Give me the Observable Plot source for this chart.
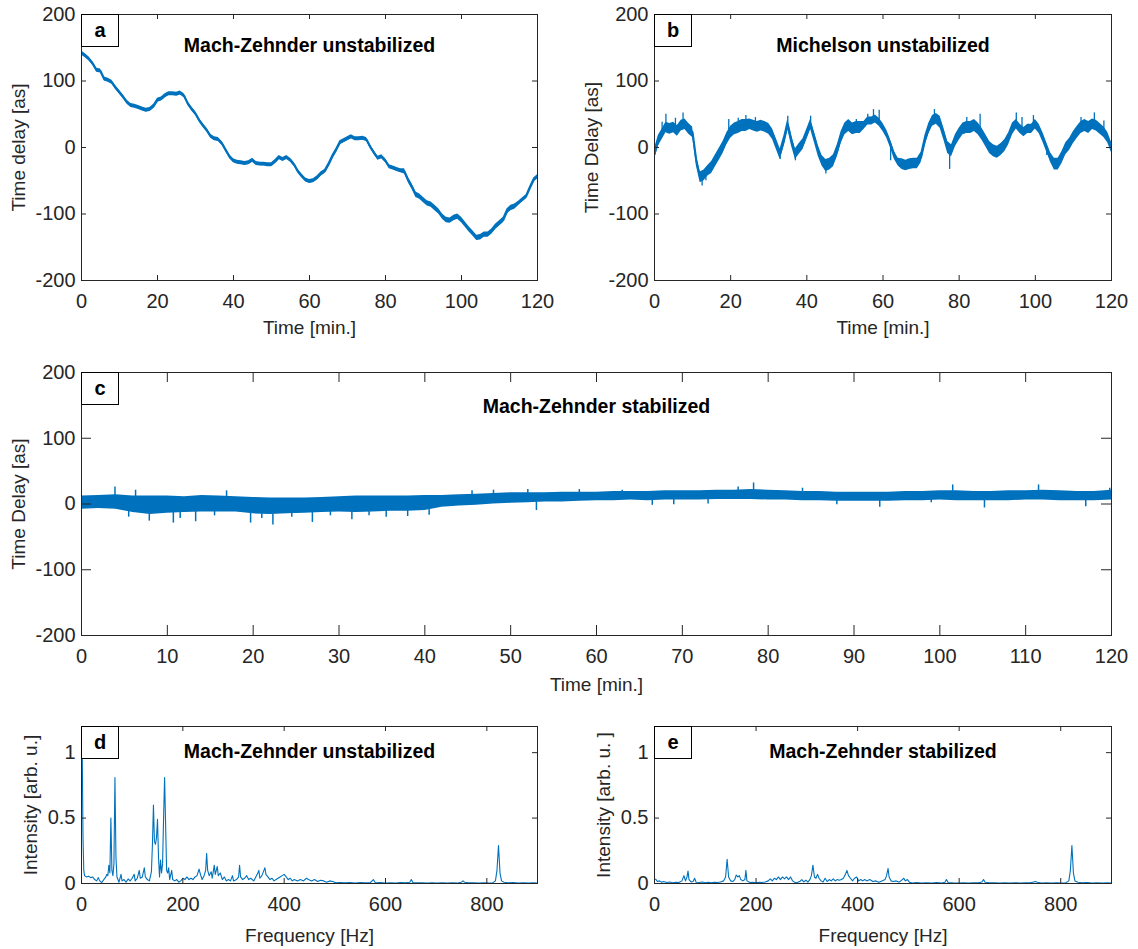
<!DOCTYPE html>
<html>
<head>
<meta charset="utf-8">
<script src="https://cdn.jsdelivr.net/npm/d3@7"></script>
<script src="https://cdn.jsdelivr.net/npm/@observablehq/plot@0.6"></script>
<style>
  body { margin: 0; background: #fff; }
  #fig { position: relative; width: 1138px; height: 949px; font-family: "Liberation Sans", Arial, Helvetica, sans-serif; }
  #fig svg { position: absolute; }
  .tag { position: absolute; width: 38px; height: 33px; box-sizing: border-box; border: 1px solid #000; background: #fff;
         font-weight: bold; font-size: 20px; color: #000; display: flex; align-items: center; justify-content: center; }
</style>
</head>
<body>
<div id="fig"></div>
<script>
// ---- measured series ----------------------------------------------------

// (a) Mach-Zehnder, unstabilized: time delay [as], one value per minute 0..120
const aDelay = [
  142, 138, 133, 126, 116, 115, 103, 101, 98, 90,
  83, 76, 68, 63, 62, 60, 58, 56, 57, 62,
  71, 73, 78, 81, 81, 80, 82, 78, 66, 58,
  51, 41, 33, 26, 17, 13, 12, 6, -4, -14,
  -20, -22, -23, -24, -23, -19, -24, -25, -25, -26,
  -26, -21, -15, -18, -15, -19, -26, -36, -43, -49,
  -51, -50, -46, -40, -36, -26, -14, -4, 7, 10,
  13, 16, 13, 13, 14, 12, 1, -8, -16, -14,
  -20, -29, -31, -33, -35, -36, -49, -59, -71, -74,
  -79, -84, -86, -91, -96, -104, -109, -110, -106, -104,
  -109, -116, -123, -129, -136, -135, -131, -131, -126, -119,
  -114, -109, -96, -91, -89, -84, -79, -74, -61, -49,
  -44
];
// half-width of the noise band around the trace, per 10-minute stretch
const aSpread = [3, 3, 3, 3, 3, 3, 3, 3, 3, 4, 4, 4, 3];

// (b) Michelson, unstabilized: centre of the trace per minute 0..120
const bDelay = [
  -10, 10, 20, 30, 28, 30, 25, 33, 35, 28,
  23, -20, -45, -42, -35, -30, -20, -10, 0, 13,
  23, 28, 30, 33, 33, 35, 33, 31, 33, 31,
  28, 20, 5, -10, 10, 35, 10, -10, -2, 5,
  20, 35, 15, -5, -20, -27, -25, -20, -5, 15,
  28, 33, 28, 30, 30, 33, 40, 40, 43, 38,
  30, 20, 5, -12, -22, -25, -27, -25, -24, -24,
  -15, 10, 28, 40, 43, 38, 20, 0, -5, 10,
  20, 28, 30, 30, 33, 28, 20, 10, 0, -5,
  -7, -3, 3, 13, 28, 35, 28, 23, 28, 28,
  35, 28, 15, 0, -15, -25, -25, -15, -2, 5,
  15, 23, 30, 33, 30, 35, 33, 28, 23, 15,
  0
];
// half-width of the noise band, per 10-minute stretch
const bSpread = [8, 8, 9, 8, 8, 9, 6, 8, 9, 9, 7, 9, 8];
// isolated excursions [minute, delay]
const bSpikes = [
  [2, 38], [3, 50], [5.5, 44], [7.5, 52], [12.5, -58], [13.5, -50], [19.5, 42], [22, 44], [24, 48],
  [26.5, 45], [33, -18], [35, 47], [37, -20], [41, 47], [45, -40], [53, 42], [56, 50], [57.5, 57],
  [59, 56], [62, -20], [65, -30], [73.5, 57], [77.5, -33], [82, 45], [85.5, 50], [95, 52], [96.5, 45],
  [99.5, 48], [103, -12], [106, -28], [112, 45], [115.5, 52], [118, 40]
];

// (c) Mach-Zehnder, stabilized: lower / upper edge of the noise band, every 2 minutes 0..120
const cLow = [
  -8, -7, -8, -13, -16, -14, -13, -12, -12, -12,
  -15, -16, -15, -14, -13, -12, -13, -12, -11, -11,
  -10, -5, -3, -2, 0, 1, 2, 3, 3, 4,
  5, 5, 6, 5, 6, 6, 6, 7, 7, 7,
  6, 6, 5, 5, 4, 4, 4, 4, 5, 5,
  6, 5, 5, 5, 5, 6, 6, 5, 5, 5,
  6
];
const cHigh = [
  12, 13, 14, 12, 12, 12, 11, 13, 12, 11,
  10, 9, 9, 9, 10, 11, 12, 12, 12, 12,
  13, 13, 14, 15, 16, 17, 17, 17, 18, 18,
  18, 19, 19, 19, 20, 20, 20, 21, 21, 22,
  21, 20, 19, 19, 18, 18, 18, 18, 19, 19,
  20, 20, 19, 19, 20, 20, 21, 20, 19, 19,
  21
];
const cSpikes = [
  [3.9, 26], [5.5, -20], [6.3, 21], [7.9, -26], [10.7, -29], [11.5, -22], [13.3, -27], [15.5, -18],
  [16.9, 20], [19.7, -29], [21, -22], [22.3, -32], [24.5, -20], [26.9, -28], [29, -18], [31.5, -24],
  [33.5, -18], [35.5, -20], [38, -19], [40.5, -17], [45.5, 20], [48, 21], [52, 22], [53, -10],
  [58, 22], [63, 21], [66.5, -2], [69, -1], [73, 0], [76.5, 26], [78.3, 32], [84, 24], [88, -1],
  [93, -5], [99, 2], [101.5, 29], [105.2, -6], [111.5, 29], [117, -4], [119.8, 24]
];

// (d) spectrum, Mach-Zehnder unstabilized: [frequency Hz, intensity]
const dSpectrum = [
  [0, 1.0], [1.5, 0.98], [3, 0.35], [4.5, 0.1], [6, 0.06], [10, 0.05], [14, 0.055], [18, 0.045], [22, 0.05],
  [26, 0.03], [30, 0.02], [33, 0.045], [36, 0.02], [40, 0.008], [44, 0.03], [48, 0.05], [50, 0.07], [52, 0.06],
  [54, 0.14], [56, 0.08], [58, 0.5], [60, 0.1], [62, 0.06], [64, 0.15], [66, 0.81], [68, 0.2], [70, 0.05],
  [74, 0.01], [78, 0.07], [80, 0.02], [84, 0.03], [88, 0.01], [92, 0.035], [96, 0.02], [100, 0.04], [104, 0.07],
  [106, 0.02], [110, 0.04], [114, 0.1], [116, 0.04], [120, 0.05], [124, 0.12], [126, 0.05], [130, 0.03],
  [134, 0.02], [138, 0.09], [140, 0.3], [142, 0.6], [144, 0.32], [146, 0.3], [148, 0.35], [150, 0.49],
  [152, 0.2], [154, 0.05], [156, 0.18], [158, 0.08], [160, 0.15], [162, 0.5], [164, 0.81], [166, 0.45],
  [168, 0.1], [170, 0.08], [172, 0.12], [174, 0.03], [178, 0.1], [180, 0.03], [184, 0.02], [188, 0.03],
  [192, 0.01], [196, 0.02], [200, 0.04], [204, 0.03], [208, 0.05], [212, 0.03], [216, 0.04], [220, 0.03],
  [224, 0.05], [228, 0.06], [232, 0.11], [234, 0.08], [238, 0.03], [242, 0.06], [245, 0.1], [247, 0.23],
  [249, 0.1], [252, 0.06], [256, 0.09], [258, 0.04], [262, 0.14], [264, 0.07], [268, 0.13], [270, 0.06],
  [274, 0.08], [278, 0.03], [282, 0.05], [286, 0.02], [290, 0.03], [294, 0.02], [298, 0.06], [300, 0.02],
  [306, 0.03], [310, 0.05], [312, 0.14], [314, 0.05], [318, 0.03], [322, 0.04], [326, 0.06], [330, 0.03],
  [334, 0.04], [340, 0.02], [344, 0.05], [348, 0.08], [350, 0.1], [352, 0.04], [356, 0.06], [360, 0.1],
  [362, 0.12], [364, 0.07], [368, 0.05], [372, 0.03], [376, 0.04], [380, 0.02], [384, 0.03], [388, 0.04],
  [392, 0.05], [396, 0.06], [400, 0.07], [404, 0.05], [408, 0.03], [412, 0.04], [416, 0.02], [420, 0.03],
  [426, 0.02], [432, 0.03], [438, 0.02], [444, 0.04], [448, 0.03], [454, 0.02], [460, 0.03], [466, 0.015],
  [472, 0.025], [478, 0.02], [484, 0.01], [490, 0.02], [496, 0.015], [502, 0.005], [510, 0.008], [520, 0.005],
  [530, 0.008], [540, 0.004], [550, 0.007], [560, 0.005], [570, 0.006], [576, 0.03], [580, 0.005], [590, 0.007],
  [600, 0.004], [610, 0.006], [620, 0.004], [630, 0.007], [640, 0.005], [648, 0.01], [651, 0.03], [654, 0.008],
  [662, 0.005], [672, 0.006], [682, 0.004], [692, 0.006], [702, 0.004], [712, 0.005], [722, 0.004], [732, 0.006],
  [742, 0.004], [750, 0.01], [753, 0.02], [756, 0.01], [764, 0.005], [774, 0.006], [784, 0.004], [794, 0.006],
  [804, 0.004], [812, 0.006], [817, 0.02], [820, 0.1], [823, 0.29], [826, 0.08], [829, 0.02], [834, 0.01],
  [842, 0.005], [852, 0.007], [862, 0.004], [872, 0.006], [882, 0.004], [892, 0.005], [900, 0.004]
];

// (e) spectrum, Mach-Zehnder stabilized: [frequency Hz, intensity]
const eSpectrum = [
  [0, 0.035], [3, 0.03], [6, 0.015], [10, 0.02], [14, 0.01], [18, 0.015], [24, 0.008], [30, 0.012], [36, 0.006],
  [42, 0.01], [48, 0.008], [54, 0.02], [58, 0.06], [61, 0.02], [64, 0.05], [66, 0.095], [68, 0.03], [72, 0.012],
  [76, 0.015], [79, 0.04], [82, 0.01], [88, 0.008], [94, 0.012], [100, 0.006], [106, 0.01], [112, 0.006],
  [118, 0.01], [124, 0.008], [130, 0.012], [136, 0.02], [140, 0.05], [143, 0.185], [146, 0.05], [150, 0.02],
  [154, 0.015], [158, 0.03], [161, 0.065], [164, 0.05], [167, 0.06], [170, 0.03], [174, 0.02], [178, 0.03],
  [180, 0.1], [182, 0.02], [188, 0.008], [194, 0.01], [200, 0.006], [206, 0.01], [212, 0.008], [218, 0.012],
  [224, 0.02], [228, 0.035], [232, 0.02], [236, 0.04], [240, 0.03], [244, 0.05], [248, 0.03], [252, 0.05],
  [256, 0.035], [260, 0.05], [264, 0.03], [268, 0.05], [272, 0.02], [276, 0.01], [280, 0.006], [286, 0.015],
  [290, 0.03], [294, 0.012], [298, 0.025], [302, 0.01], [306, 0.03], [309, 0.06], [312, 0.14], [315, 0.05],
  [318, 0.04], [321, 0.07], [324, 0.04], [328, 0.02], [332, 0.012], [336, 0.04], [340, 0.015], [344, 0.03],
  [348, 0.02], [352, 0.035], [356, 0.02], [360, 0.03], [364, 0.025], [368, 0.03], [372, 0.04], [376, 0.07],
  [379, 0.1], [382, 0.06], [386, 0.04], [390, 0.02], [394, 0.04], [398, 0.05], [402, 0.02], [406, 0.03],
  [410, 0.02], [414, 0.03], [418, 0.02], [424, 0.03], [430, 0.015], [436, 0.02], [442, 0.01], [448, 0.02],
  [454, 0.03], [457, 0.06], [460, 0.115], [462, 0.05], [466, 0.02], [470, 0.015], [476, 0.02], [482, 0.01],
  [488, 0.03], [491, 0.04], [494, 0.02], [498, 0.03], [502, 0.01], [508, 0.004], [516, 0.007], [526, 0.004],
  [536, 0.006], [546, 0.004], [556, 0.007], [566, 0.004], [572, 0.01], [575, 0.03], [578, 0.008], [588, 0.005],
  [598, 0.004], [608, 0.006], [618, 0.004], [628, 0.006], [638, 0.005], [645, 0.012], [648, 0.03], [651, 0.01],
  [660, 0.005], [670, 0.006], [680, 0.004], [690, 0.006], [700, 0.004], [710, 0.005], [720, 0.004], [730, 0.006],
  [740, 0.005], [747, 0.012], [750, 0.015], [754, 0.01], [762, 0.004], [772, 0.006], [782, 0.004], [792, 0.005],
  [802, 0.004], [810, 0.006], [816, 0.02], [819, 0.1], [822, 0.29], [825, 0.08], [828, 0.02], [834, 0.01],
  [842, 0.005], [852, 0.007], [862, 0.004], [872, 0.006], [882, 0.004], [892, 0.006], [900, 0.004]
];

// ---- axes ------------------------------------------------------------------
const delayTicks = [-200, -100, 0, 100, 200];
const timeTicksWide = [0, 20, 40, 60, 80, 100, 120];
const timeTicksFine = [0, 10, 20, 30, 40, 50, 60, 70, 80, 90, 100, 110, 120];
const freqTicks = [0, 200, 400, 600, 800];
const intensityTicks = [0, 0.5, 1];

// ---- styling ---------------------------------------------------------------
const BLUE = "#0072BD";
const INK = "#262626";
const FONT = "'Liberation Sans', Arial, Helvetica, sans-serif";
const fmt = d => String(d);   // plain hyphen-minus on negative ticks

const fig = document.getElementById("fig");

function panel(cfg) {
  const [mt, mr, mb, ml] = cfg.margin;
  const fw = cfg.width - ml - mr;
  const fh = cfg.height - mt - mb;
  const L = cfg.tickLen;
  const svg = Plot.plot({
    width: cfg.width, height: cfg.height,
    marginTop: mt, marginRight: mr, marginBottom: mb, marginLeft: ml,
    x: {domain: cfg.x}, y: {domain: cfg.y},
    style: {fontFamily: FONT, color: INK, background: "transparent", overflow: "visible"},
    marks: [
      ...cfg.marks,
      // inward ticks on all four sides
      Plot.tickX(cfg.xTicks, {x: d => d, stroke: INK, insetTop: fh - L}),
      Plot.tickX(cfg.xTicks, {x: d => d, stroke: INK, insetBottom: fh - L}),
      Plot.tickY(cfg.yTicks, {y: d => d, stroke: INK, insetRight: fw - L}),
      Plot.tickY(cfg.yTicks, {y: d => d, stroke: INK, insetLeft: fw - L}),
      Plot.frame({stroke: INK}),
      Plot.axisX({ticks: cfg.xTicks, tickSize: 0, tickPadding: 13, tickFormat: fmt, fontSize: 20, label: null}),
      Plot.axisY({ticks: cfg.yTicks, tickSize: 0, tickPadding: 6, tickFormat: fmt, fontSize: 20, label: null}),
      Plot.text([cfg.xLabel], {text: d => d, frameAnchor: "bottom", dy: cfg.xLabelDy,
        textAnchor: "middle", lineAnchor: "middle", fontSize: 19, fill: INK}),
      Plot.text([cfg.yLabel], {text: d => d, frameAnchor: "left", dx: -cfg.yLabelDx, rotate: -90,
        textAnchor: "middle", lineAnchor: "middle", fontSize: 19, fill: INK}),
      Plot.text([cfg.title], {text: d => d, frameAnchor: "top", dy: cfg.titleDy,
        textAnchor: "middle", lineAnchor: "middle", fontSize: 19.5, fontWeight: "bold", fill: "#000"})
    ]
  });
  svg.style.left = cfg.left + "px";
  svg.style.top = cfg.top + "px";
  fig.appendChild(svg);

  const tag = document.createElement("div");
  tag.className = "tag";
  tag.textContent = cfg.tag;
  tag.style.left = (cfg.left + ml) + "px";
  tag.style.top = (cfg.top + mt) + "px";
  fig.appendChild(tag);
}

// ---- derived tables ----------------------------------------------------------
const aRows = aDelay.map((v, t) => {
  const s = aSpread[Math.round(t / 10)];
  return {t, v, lo: v - s, hi: v + s};
});
const bRows = bDelay.map((v, t) => {
  const s = bSpread[Math.round(t / 10)];
  return {t, v, lo: v - s, hi: v + s};
});
const bSpikeRows = bSpikes.map(([t, v]) => ({t, v, base: bDelay[Math.round(t)]}));
const cRows = cLow.map((lo, i) => ({t: i * 2, lo, hi: cHigh[i], mid: (lo + cHigh[i]) / 2}));
const cSpikeRows = cSpikes.map(([t, v]) => {
  const r = cRows[Math.round(t / 2)];
  return {t, v, base: r.mid};
});
const dRows = dSpectrum.map(([f, v]) => ({f, v}));
const eRows = eSpectrum.map(([f, v]) => ({f, v}));

// ---- panels ------------------------------------------------------------------
panel({
  tag: "a", title: "Mach-Zehnder unstabilized", titleDy: 31,
  left: 0, top: 0, width: 569, height: 345, margin: [14, 32, 65, 81],
  x: [0, 120], y: [-200, 200], xTicks: timeTicksWide, yTicks: delayTicks, tickLen: 5,
  xLabel: "Time [min.]", xLabelDy: 47, yLabel: "Time delay [as]", yLabelDx: 63,
  marks: [
    Plot.areaY(aRows, {x: "t", y1: "lo", y2: "hi", fill: BLUE, clip: true}),
    Plot.line(aRows, {x: "t", y: "v", stroke: BLUE, strokeWidth: 2, clip: true})
  ]
});

panel({
  tag: "b", title: "Michelson unstabilized", titleDy: 31,
  left: 569, top: 0, width: 569, height: 345, margin: [14, 27, 65, 85],
  x: [0, 120], y: [-200, 200], xTicks: timeTicksWide, yTicks: delayTicks, tickLen: 5,
  xLabel: "Time [min.]", xLabelDy: 47, yLabel: "Time Delay [as]", yLabelDx: 63,
  marks: [
    Plot.areaY(bRows, {x: "t", y1: "lo", y2: "hi", fill: BLUE, clip: true}),
    Plot.line(bRows, {x: "t", y: "v", stroke: BLUE, strokeWidth: 2, clip: true}),
    Plot.ruleX(bSpikeRows, {x: "t", y1: "base", y2: "v", stroke: BLUE, strokeWidth: 1.3, clip: true})
  ]
});

panel({
  tag: "c", title: "Mach-Zehnder stabilized", titleDy: 34,
  left: 0, top: 345, width: 1138, height: 365, margin: [27, 27, 75, 81],
  x: [0, 120], y: [-200, 200], xTicks: timeTicksFine, yTicks: delayTicks, tickLen: 10,
  xLabel: "Time [min.]", xLabelDy: 49, yLabel: "Time Delay [as]", yLabelDx: 63,
  marks: [
    Plot.areaY(cRows, {x: "t", y1: "lo", y2: "hi", fill: BLUE, clip: true}),
    Plot.ruleX(cSpikeRows, {x: "t", y1: "base", y2: "v", stroke: BLUE, strokeWidth: 1.5, clip: true})
  ]
});

panel({
  tag: "d", title: "Mach-Zehnder unstabilized", titleDy: 25,
  left: 0, top: 710, width: 569, height: 239, margin: [16, 32, 66, 81],
  x: [0, 900], y: [0, 1.2], xTicks: freqTicks, yTicks: intensityTicks, tickLen: 5,
  xLabel: "Frequency [Hz]", xLabelDy: 52, yLabel: "Intensity [arb. u.]", yLabelDx: 51,
  marks: [
    Plot.line(dRows, {x: "f", y: "v", stroke: BLUE, strokeWidth: 1.1, clip: true})
  ]
});

panel({
  tag: "e", title: "Mach-Zehnder stabilized", titleDy: 25,
  left: 569, top: 710, width: 569, height: 239, margin: [16, 27, 66, 85],
  x: [0, 900], y: [0, 1.2], xTicks: freqTicks, yTicks: intensityTicks, tickLen: 5,
  xLabel: "Frequency [Hz]", xLabelDy: 52, yLabel: "Intensity [arb. u. ]", yLabelDx: 51,
  marks: [
    Plot.line(eRows, {x: "f", y: "v", stroke: BLUE, strokeWidth: 1.1, clip: true})
  ]
});
</script>
</body>
</html>
